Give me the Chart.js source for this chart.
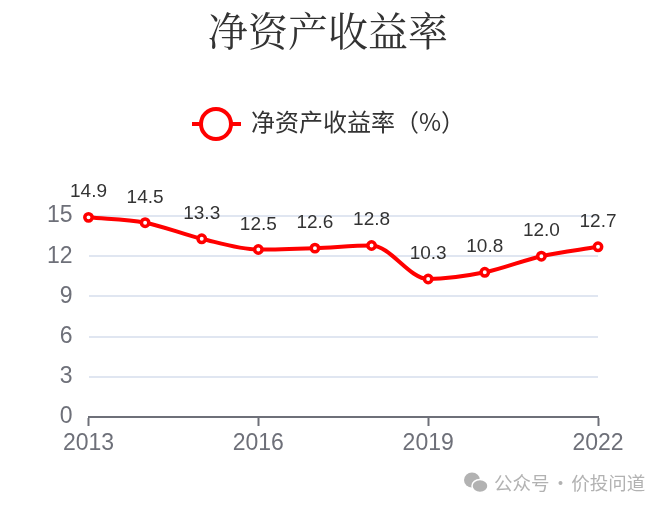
<!DOCTYPE html>
<html><head><meta charset="utf-8">
<style>html,body{margin:0;padding:0;background:#fff}#w{position:relative;width:666px;height:510px}canvas{position:absolute;left:0;top:0}</style>
<script src="https://cdn.jsdelivr.net/npm/chart.js@4"></script></head>
<body><div id="w"><canvas id="c" width="666" height="510"></canvas></div>
<script>
const titleText="净资产收益率";
const seriesName="净资产收益率（%）";
const categories=["2013","2014","2015","2016","2017","2018","2019","2020","2021","2022"];
const values=[14.9,14.5,13.3,12.5,12.6,12.8,10.3,10.8,12.0,12.7];
const yTicks=[0,3,6,9,12,15];
const watermark="公众号 · 价投问道";
const font='"Liberation Sans","Noto Sans CJK SC",sans-serif';
const overlay={id:'overlay',afterDraw(ch){const g=ch.ctx;g.save();
 g.textBaseline='middle';
 g.fillStyle='#333';g.textAlign='center';g.font='40px "Noto Serif CJK SC","Noto Sans CJK SC",serif';g.fillText(titleText,328,31);
 g.strokeStyle='#f00';g.lineWidth=4;g.beginPath();g.moveTo(192,124);g.lineTo(241,124);g.stroke();
 g.fillStyle='#fff';g.beginPath();g.arc(216,124,15,0,7);g.fill();g.stroke();
 g.fillStyle='#333';g.textAlign='left';g.font='24px "Noto Sans CJK SC",sans-serif';g.fillText(seriesName,251,122);
 g.fillStyle='#b2b2b2';g.font='18.5px "Noto Sans CJK SC",sans-serif';g.wordSpacing='-2.5px';g.fillText(watermark,494,483);g.wordSpacing='0px';
 g.beginPath();g.ellipse(472,480,8,7.5,0,0,7);g.fill();
 g.strokeStyle='#fff';g.lineWidth=1.5;g.beginPath();g.ellipse(480,486,8,6.5,0,0,7);g.fill();g.stroke();
 g.restore();}};
new Chart(document.getElementById('c'),{type:'line',
 data:{labels:categories,datasets:[{label:seriesName,data:values,borderColor:'#f00',borderWidth:4,cubicInterpolationMode:'monotone',
  pointRadius:3.7,pointBorderWidth:3.5,pointBackgroundColor:'#fff',pointBorderColor:'#f00',clip:false}]},
 options:{responsive:false,animation:false,
  layout:{padding:{top:216,right:68,left:0,bottom:0}},
  plugins:{legend:{display:false},tooltip:{enabled:false}},
  scales:{
   x:{type:'category',offset:false,position:'bottom',afterFit(s){s.height=93},
     grid:{drawOnChartArea:false,drawTicks:true,tickLength:9,tickWidth:2,tickColor(c){return c.index%3===0?'#6e7079':'rgba(0,0,0,0)'}},border:{color:'#6e7079',width:2},
     ticks:{autoSkip:false,maxRotation:0,minRotation:0,align:'center',color:'#6e7079',padding:4,font:{size:23,family:font},callback(v,i){return i%3===0?categories[i]:''}}},
   y:{min:0,max:15,afterFit(s){s.width=88.5},afterBuildTicks(s){s.ticks=yTicks.map(v=>({value:v}))},
     grid:{color:'#e0e6f1',lineWidth:2,drawTicks:false},border:{display:false},
     ticks:{color:'#6e7079',font:{size:23,family:font},padding:16}}
  }},
 plugins:[overlay,{id:'labels',afterDatasetsDraw(ch){const g=ch.ctx,m=ch.getDatasetMeta(0);g.save();g.fillStyle='#333';g.textAlign='center';g.textBaseline='alphabetic';g.font='19px '+font;
   m.data.forEach((p,i)=>g.fillText(values[i].toFixed(1),p.x,p.y-20));g.restore();}}]
});
</script></body></html>
